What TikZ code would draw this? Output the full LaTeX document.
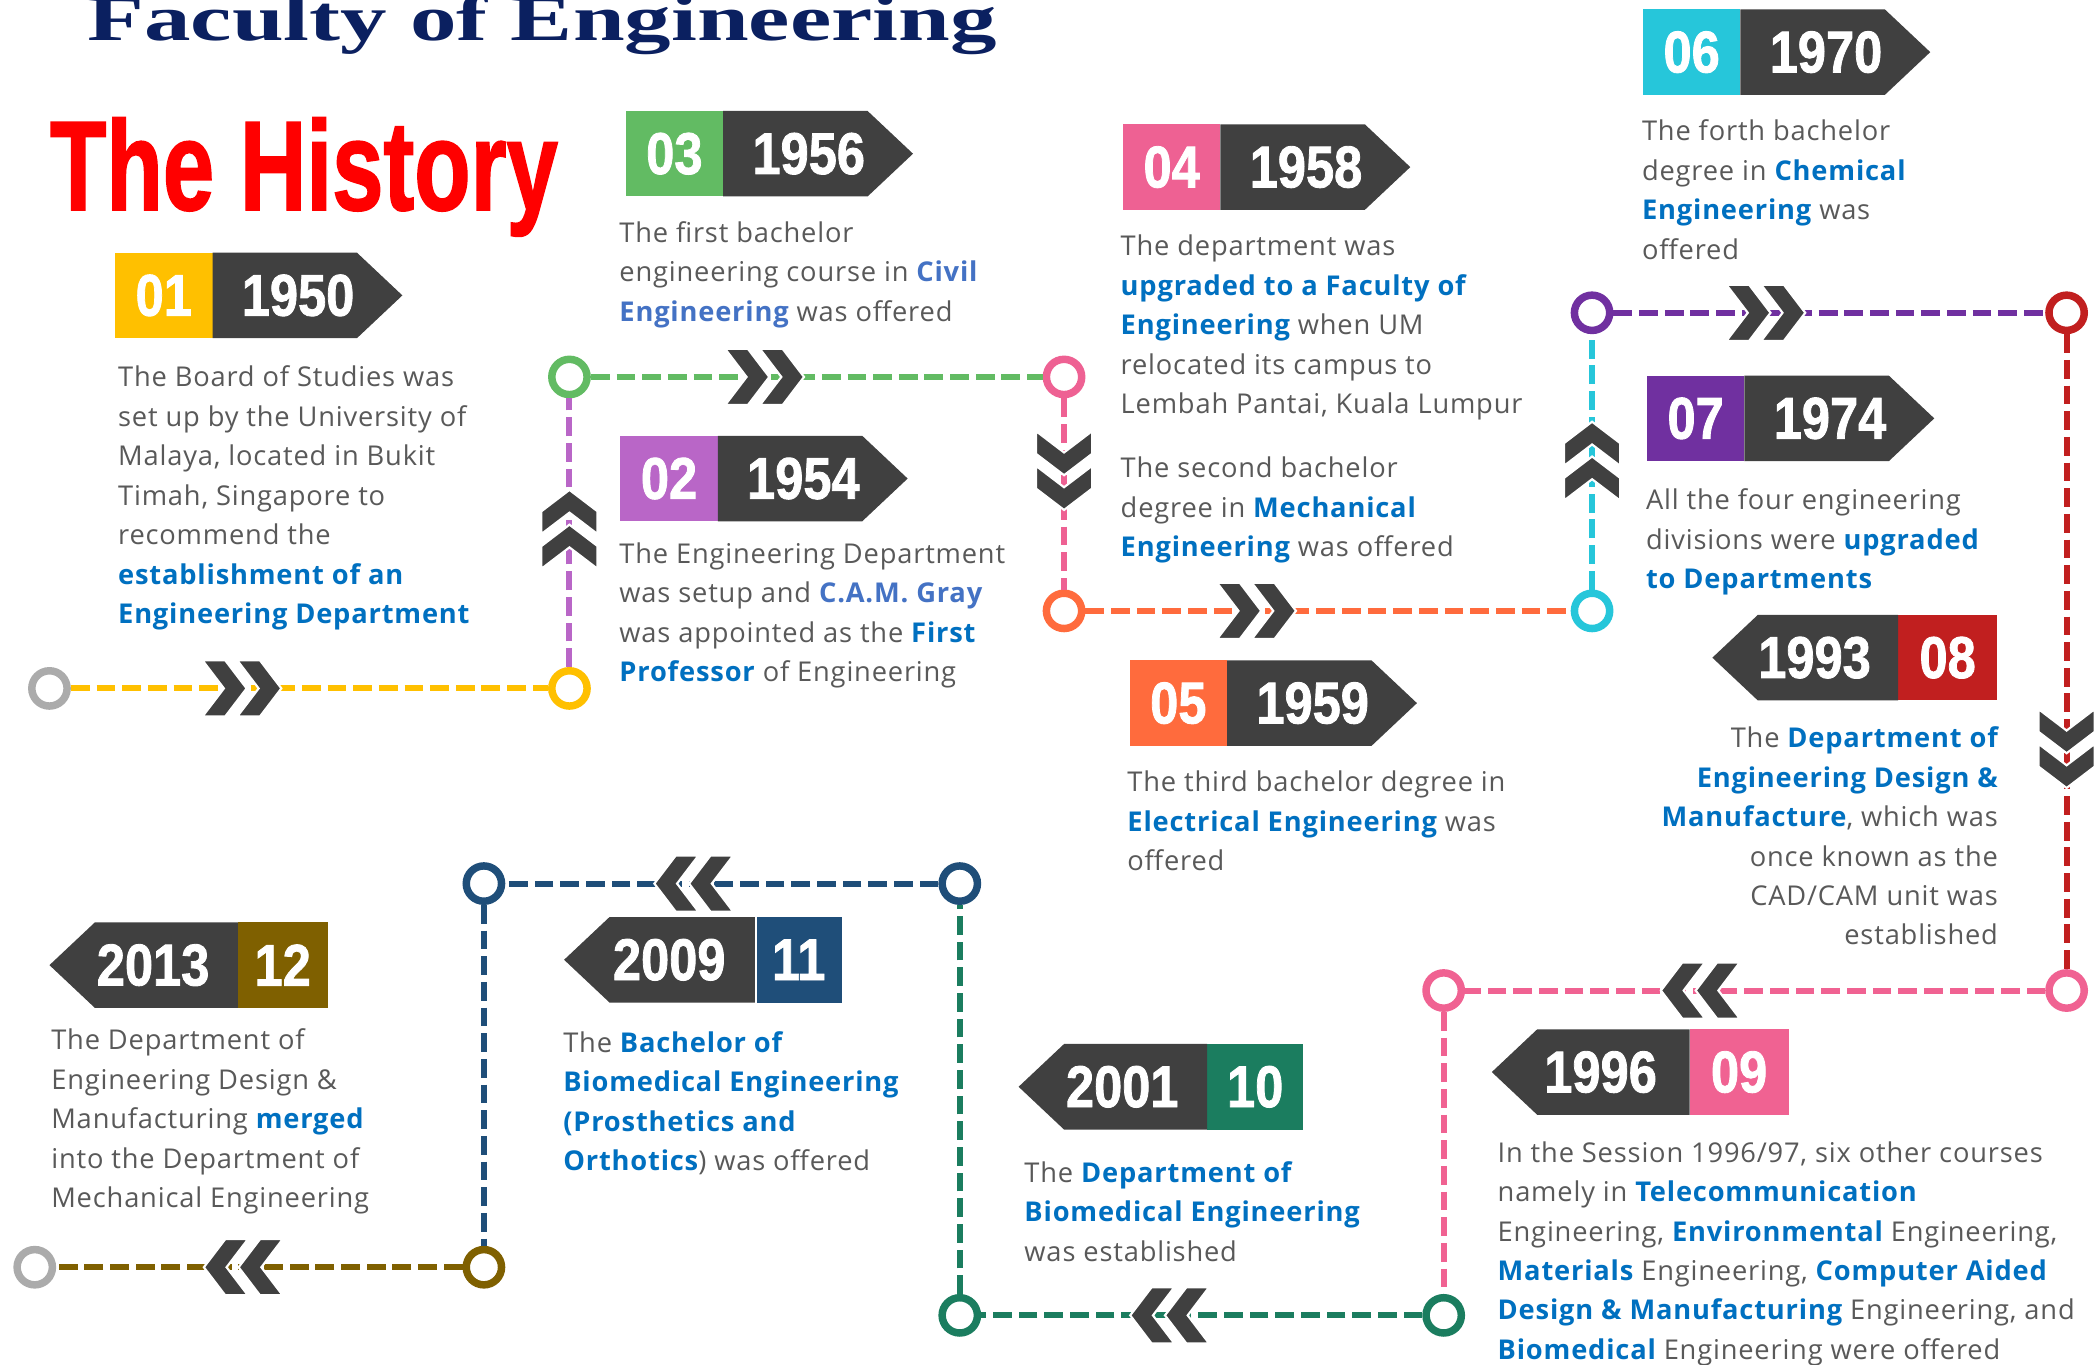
\documentclass[tikz,border=0pt]{standalone}
\usepackage{fontspec}
\usepackage{graphicx}
\newfontfamily\bodyfont{Open Sans}[LetterSpace=3]
\newfontfamily\heavyfont{Liberation Sans}[BoldFeatures={FakeBold=1.5}]
\newfontfamily\titlefont{Liberation Serif}
\definecolor{cgold}{HTML}{FFC000}
\definecolor{cgreen}{HTML}{62BB63}
\definecolor{cviolet}{HTML}{B966C7}
\definecolor{cpink}{HTML}{EE6193}
\definecolor{corange}{HTML}{FF6B3D}
\definecolor{ccyan}{HTML}{26C6DA}
\definecolor{cpurple}{HTML}{7030A0}
\definecolor{cred}{HTML}{C11F1F}
\definecolor{cpinkb}{HTML}{F06292}
\definecolor{cteal}{HTML}{1B7D5F}
\definecolor{cnavy}{HTML}{1F4E79}
\definecolor{cbrown}{HTML}{7F6000}
\definecolor{cgrayc}{HTML}{ABABAB}
\definecolor{dkgray}{HTML}{404040}
\definecolor{txtgray}{HTML}{595959}
\definecolor{hlblue}{HTML}{0070C0}
\definecolor{hlbluetwo}{HTML}{4472C4}
\definecolor{titlenavy}{HTML}{0B2060}
\newcommand\hlt[1]{{\color{hlblue}\bfseries #1}}
\newcommand\hltb[1]{{\color{hlbluetwo}\bfseries #1}}
\newcommand\firstln{\rule{0pt}{15pt}}
\newcommand\bnum[1]{\scalebox{0.86}[1]{#1}}
\newcommand\badgeR[6]{%
  \fill[#3] (#1,#2) rectangle ++(73,64);
  \fill[dkgray] (#1+73,#2) -- ++(108,0) -- ++(34,32) -- ++(-34,32) -- ++(-108,0) -- cycle;
  \node[numtxt] (#6n) at (#1+36.5,#2+32) {\bnum{#4}};
  \node[numtxt] (#6y) at (#1+137,#2+32) {\bnum{#5}};
}
\newcommand\badgeL[8]{%
  \fill[#3] (#1-#7,#2) rectangle (#1,#2+64);
  \fill[dkgray] (#1-#7,#2) -- ++(-#8+34,0) -- ++(-34,32) -- ++(34,32) -- ++(#8-34,0) -- cycle;
  \node[numtxt] (#6n) at (#1-#7/2,#2+32) {\bnum{#4}};
  \node[numtxt] (#6y) at (#1-#7-0.45*#8,#2+32) {\bnum{#5}};
}
\tikzset{
  dl/.style={line width=2.25pt, dash pattern=on 7pt off 2.6pt},
  ring/.style={circle, draw=#1, line width=2.8pt, fill=white, inner sep=0pt, minimum size=13.2pt},
  body/.style={anchor=north west, inner sep=0pt, align=left, text=txtgray,
    font=\bodyfont\fontsize{10.2pt}{14.75pt}\selectfont},
  bodyr/.style={body, anchor=north east, align=right},
  numtxt/.style={text=white, inner sep=0pt, font=\heavyfont\bfseries\fontsize{22pt}{22pt}\selectfont},
  chev/.pic={
    \foreach \dx in {-29.5,-3.5}{
      \filldraw[fill=dkgray, draw=white, line width=0.8pt, shift={(\dx,0)}]
        (0,-21) -- (17,-21) -- (33,0) -- (17,21) -- (0,21) -- (16,0) -- cycle;
    }
  }
}
\begin{document}
\begin{tikzpicture}[x=0.5pt,y=-0.5pt]
\useasboundingbox[fill=white] (0,0) rectangle (1568,1021);

% titles
\node[anchor=base west, inner sep=0pt, text=titlenavy] (title) at (65,30)
  {\resizebox{340pt}{17pt}{\titlefont\bfseries Faculty of Engineering}};
\node[anchor=base west, inner sep=0pt, text=red] (hist) at (37,157)
  {\resizebox{190pt}{34.5pt}{\heavyfont\bfseries The History}};

% badges
\badgeR{86}{189}{cgold}{01}{1950}{b01}
\badgeR{468}{83}{cgreen}{03}{1956}{b03}
\badgeR{464}{326}{cviolet}{02}{1954}{b02}
\badgeR{840}{93}{cpink}{04}{1958}{b04}
\badgeR{845}{494}{corange}{05}{1959}{b05}
\badgeR{1229}{7}{ccyan}{06}{1970}{b06}
\badgeR{1232}{281}{cpurple}{07}{1974}{b07}
\badgeL{1494}{460}{cred}{08}{1993}{b08}{74}{139}
\badgeL{1338}{770}{cpinkb}{09}{1996}{b09}{74}{148}
\badgeL{975}{781}{cteal}{10}{2001}{b10}{72}{141}
\badgeL{630}{686}{cnavy}{11}{2009}{b11}{65}{143}
\fill[white] (564.5,686) rectangle (566.5,750);
\badgeL{245}{690}{cbrown}{12}{2013}{b12}{67}{141}

% texts
\node[body] (t01) at (88,259) {\firstln The Board of Studies was\\ set up by the University of\\ Malaya, located in Bukit\\ Timah, Singapore to\\ recommend the\\ \hlt{establishment of an}\\ \hlt{Engineering Department}};
\node[body] (t03) at (463,151) {\firstln The first bachelor\\ engineering course in \hltb{Civil}\\ \hltb{Engineering} was offered};
\node[body] (t02) at (463,391) {\firstln The Engineering Department\\ was setup and \hltb{C.A.M. Gray}\\ was appointed as the \hlt{First}\\ \hlt{Professor} of Engineering};
\node[body] (t04) at (838,161) {\firstln The department was\\ \hlt{upgraded to a Faculty of}\\ \hlt{Engineering} when UM\\ relocated its campus to\\ Lembah Pantai, Kuala Lumpur};
\node[body] (t04b) at (838,327) {\firstln The second bachelor\\ degree in \hlt{Mechanical}\\ \hlt{Engineering} was offered};
\node[body] (t05) at (843,562) {\firstln The third bachelor degree in\\ \hlt{Electrical Engineering} was\\ offered};
\node[body] (t06) at (1228,75) {\firstln The forth bachelor\\ degree in \hlt{Chemical}\\ \hlt{Engineering} was\\ offered};
\node[body] (t07) at (1231,351) {\firstln All the four engineering\\ divisions were \hlt{upgraded}\\ \hlt{to Departments}};
\node[bodyr] (t08) at (1495,529) {\firstln The \hlt{Department of}\\ \hlt{Engineering Design \&}\\ \hlt{Manufacture}, which was\\ once known as the\\ CAD/CAM unit was\\ established};
\node[body] (t09) at (1120,839) {\firstln In the Session 1996/97, six other courses\\ namely in \hlt{Telecommunication}\\ Engineering, \hlt{Environmental} Engineering,\\ \hlt{Materials} Engineering, \hlt{Computer Aided}\\ \hlt{Design \& Manufacturing} Engineering, and\\ \hlt{Biomedical} Engineering were offered};
\node[body] (t10) at (766,854) {\firstln The \hlt{Department of}\\ \hlt{Biomedical Engineering}\\ was established};
\node[body] (t11) at (421,757) {\firstln The \hlt{Bachelor of}\\ \hlt{Biomedical Engineering}\\ \hlt{(Prosthetics and}\\ \hlt{Orthotics}) was offered};
\node[body] (t12) at (38,755) {\firstln The Department of\\ Engineering Design \&\\ Manufacturing \hlt{merged}\\ into the Department of\\ Mechanical Engineering};

% circles
\node[ring=cgrayc] (g1) at (37,515) {};
\node[ring=cgold] (c1) at (426,515) {};
\node[ring=cgreen] (c2) at (426,282) {};
\node[ring=cpink] (c3) at (796,282) {};
\node[ring=corange] (c4) at (796,457) {};
\node[ring=ccyan] (c5) at (1191,457) {};
\node[ring=cpurple] (c6) at (1191,234) {};
\node[ring=cred] (c7) at (1546,234) {};
\node[ring=cpinkb] (c8) at (1546,741) {};
\node[ring=cpinkb] (c9) at (1080,741) {};
\node[ring=cteal] (c10) at (1080,984) {};
\node[ring=cteal] (c11) at (718,984) {};
\node[ring=cnavy] (c12) at (718,661) {};
\node[ring=cnavy] (c13) at (362,661) {};
\node[ring=cbrown] (c14) at (362,948) {};
\node[ring=cgrayc] (g2) at (26,948) {};

% connectors
\draw[dl, cgold] (g1) -- (c1);
\draw[dl, cviolet] (c1) -- (c2);
\draw[dl, cgreen] (c2) -- (c3);
\draw[dl, cpink] (c3) -- (c4);
\draw[dl, corange] (c4) -- (c5);
\draw[dl, ccyan] (c5) -- (c6);
\draw[dl, cpurple] (c6) -- (c7);
\draw[dl, cred] (c7) -- (c8);
\draw[dl, cpinkb] (c8) -- (c9);
\draw[dl, cpinkb] (c9) -- (c10);
\draw[dl, cteal] (c10) -- (c11);
\draw[dl, cteal] (c11) -- (c12);
\draw[dl, cnavy] (c12) -- (c13);
\draw[dl, cnavy] (c13) -- (c14);
\draw[dl, cbrown] (c14) -- (g2);

% chevrons
\pic at (181,515) {chev};
\pic[rotate=90] at (426,396) {chev};
\pic at (572,282) {chev};
\pic[rotate=-90] at (796,352) {chev};
\pic at (940,457) {chev};
\pic[rotate=90] at (1191,345) {chev};
\pic at (1321,234) {chev};
\pic[rotate=-90] at (1546,560) {chev};
\pic[rotate=180] at (1272,741) {chev};
\pic[rotate=180] at (875,984) {chev};
\pic[rotate=180] at (519,661) {chev};
\pic[rotate=180] at (182,948) {chev};
\end{tikzpicture}
\end{document}
